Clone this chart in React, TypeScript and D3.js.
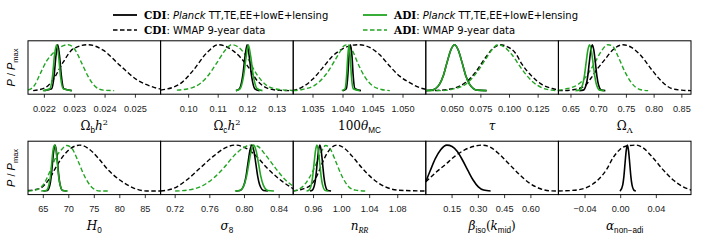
import * as d3 from "d3";

type Pt = [number, number];

const GREEN = "#22a522";
const left = 28;
const panelW = 132.6;
const panelH = 53.4;
const rowTop = [40.8, 141.2];

// tick values per panel
const ticksObh2 = [0.022, 0.023, 0.024, 0.025];
const ticksOch2 = [0.1, 0.11, 0.12, 0.13];
const ticksTheta = [1.035, 1.04, 1.045, 1.05];
const ticksTau = [0.05, 0.075, 0.1, 0.125];
const ticksOL = [0.65, 0.7, 0.75, 0.8, 0.85];
const ticksH0 = [65, 70, 75, 80, 85];
const ticksS8 = [0.72, 0.76, 0.8, 0.84];
const ticksNs = [0.96, 1.0, 1.04, 1.08];
const ticksBeta = [0.15, 0.3, 0.45, 0.6];
const ticksAlpha = [-0.04, 0.0, 0.04];

// Omega_b h^2
const obh2CdiPlanck: Pt[] = [[0.0220, 0], [0.02224, 0.04], [0.02232, 0.32], [0.02238, 0.75], [0.02244, 1], [0.0225, 0.75], [0.02256, 0.32], [0.02264, 0.04], [0.0229, 0]];
const obh2AdiPlanck: Pt[] = [[0.02195, 0], [0.02218, 0.04], [0.02227, 0.32], [0.02233, 0.75], [0.0224, 1], [0.02247, 0.75], [0.02253, 0.32], [0.02262, 0.04], [0.0229, 0]];
const obh2CdiWmap: Pt[] = [[0.02163, 0], [0.02202, 0.06], [0.02229, 0.24], [0.02262, 0.62], [0.02295, 0.91], [0.02344, 1], [0.02394, 0.88], [0.02449, 0.55], [0.02504, 0.24], [0.02559, 0.075], [0.02586, 0.03]];
const obh2AdiWmap: Pt[] = [[0.02146, 0.01], [0.02152, 0.025], [0.02169, 0.13], [0.02185, 0.35], [0.02207, 0.64], [0.02229, 0.82], [0.02251, 0.94], [0.02278, 1], [0.02301, 0.89], [0.02323, 0.6], [0.02344, 0.31], [0.02366, 0.1], [0.02394, 0.01], [0.0243, 0]];

// Omega_c h^2
const och2CdiPlanck: Pt[] = [[0.116, 0], [0.1172, 0.04], [0.1183, 0.32], [0.1191, 0.75], [0.1198, 1], [0.1205, 0.75], [0.1213, 0.32], [0.1224, 0.04], [0.124, 0]];
const och2AdiPlanck: Pt[] = [[0.116, 0], [0.1174, 0.04], [0.1186, 0.32], [0.1195, 0.75], [0.1202, 1], [0.121, 0.75], [0.1219, 0.32], [0.1232, 0.04], [0.125, 0]];
const och2CdiWmap: Pt[] = [[0.0905, 0.01], [0.0969, 0.14], [0.1014, 0.43], [0.1061, 0.82], [0.1101, 1], [0.1152, 0.86], [0.1199, 0.54], [0.1233, 0.21], [0.1268, 0.05], [0.131, 0.005], [0.1354, 0]];
const och2AdiWmap: Pt[] = [[0.096, 0.01], [0.1015, 0.07], [0.1061, 0.29], [0.1096, 0.61], [0.1125, 0.89], [0.1145, 1], [0.117, 0.94], [0.12, 0.7], [0.123, 0.36], [0.1265, 0.11], [0.131, 0.02], [0.1354, 0.005]];

// 100 theta_MC
const thetaCdiPlanck: Pt[] = [[1.04, 0], [1.04055, 0.04], [1.0408, 0.32], [1.041, 0.75], [1.04124, 1], [1.0415, 0.75], [1.0417, 0.32], [1.042, 0.04], [1.043, 0]];
const thetaAdiPlanck: Pt[] = [[1.0398, 0], [1.04035, 0.04], [1.0406, 0.32], [1.0408, 0.75], [1.041, 1], [1.0412, 0.75], [1.0414, 0.32], [1.0417, 0.04], [1.0428, 0]];
const thetaCdiWmap: Pt[] = [[1.03163, 0], [1.0332, 0.075], [1.03488, 0.24], [1.03657, 0.49], [1.03825, 0.75], [1.03994, 0.91], [1.04162, 0.99], [1.04275, 1], [1.04444, 0.94], [1.04612, 0.78], [1.04781, 0.53], [1.04949, 0.31], [1.05118, 0.17], [1.05286, 0.06], [1.05404, 0.025]];
const thetaAdiWmap: Pt[] = [[1.0317, 0.0], [1.0332, 0.025], [1.03545, 0.13], [1.03714, 0.35], [1.03825, 0.57], [1.03938, 0.82], [1.04022, 0.98], [1.04078, 1], [1.04162, 0.86], [1.04246, 0.6], [1.04359, 0.31], [1.04499, 0.1], [1.04641, 0.025], [1.0478, 0]];

// tau
const tauCdiPlanck: Pt[] = [[0.0269, 0], [0.0322, 0.011], [0.0355, 0.044], [0.0388, 0.135], [0.0421, 0.32], [0.0454, 0.61], [0.0487, 0.88], [0.052, 1], [0.0553, 0.88], [0.0586, 0.61], [0.0619, 0.32], [0.0652, 0.135], [0.0685, 0.044], [0.0718, 0.011], [0.08, 0]];
const tauAdiPlanck: Pt[] = [[0.0269, 0], [0.0322, 0.011], [0.0355, 0.044], [0.0388, 0.135], [0.0421, 0.32], [0.0454, 0.61], [0.0487, 0.88], [0.052, 1], [0.0553, 0.88], [0.0586, 0.61], [0.0619, 0.32], [0.0652, 0.135], [0.0685, 0.044], [0.0718, 0.011], [0.08, 0]];
const tauCdiWmap: Pt[] = [[0.035, 0], [0.0525, 0.06], [0.0612, 0.17], [0.07, 0.39], [0.0788, 0.71], [0.0861, 0.93], [0.0919, 1], [0.0978, 0.96], [0.1051, 0.82], [0.111, 0.57], [0.1197, 0.31], [0.1285, 0.13], [0.1373, 0.046], [0.1434, 0.01]];
const tauAdiWmap: Pt[] = [[0.03, 0], [0.0408, 0.0], [0.0525, 0.046], [0.0612, 0.13], [0.07, 0.35], [0.0788, 0.67], [0.0846, 0.89], [0.0899, 1], [0.0949, 0.96], [0.1022, 0.78], [0.111, 0.46], [0.1197, 0.205], [0.1285, 0.06], [0.1373, 0.01], [0.1434, 0]];

// Omega_Lambda
const olCdiPlanck: Pt[] = [[0.665, 0], [0.672, 0.011], [0.6775, 0.135], [0.6803, 0.32], [0.683, 0.61], [0.6858, 0.88], [0.6885, 1], [0.6912, 0.88], [0.694, 0.61], [0.6967, 0.32], [0.6995, 0.135], [0.705, 0.011], [0.712, 0]];
const olAdiPlanck: Pt[] = [[0.658, 0], [0.6649, 0.011], [0.6711, 0.135], [0.6742, 0.32], [0.6773, 0.61], [0.6804, 0.88], [0.6835, 1], [0.6866, 0.88], [0.6897, 0.61], [0.6928, 0.32], [0.6959, 0.135], [0.7021, 0.011], [0.71, 0]];
const olCdiWmap: Pt[] = [[0.627, 0], [0.638, 0], [0.6563, 0.025], [0.6745, 0.1], [0.6866, 0.28], [0.6986, 0.49], [0.7107, 0.67], [0.7257, 0.89], [0.7439, 1], [0.7591, 0.94], [0.7772, 0.75], [0.7953, 0.46], [0.8134, 0.205], [0.8316, 0.046], [0.8497, 0.01], [0.8665, 0]];
const olAdiWmap: Pt[] = [[0.627, 0.01], [0.6442, 0.046], [0.6623, 0.13], [0.6775, 0.31], [0.6926, 0.6], [0.7047, 0.86], [0.7167, 1], [0.7257, 0.96], [0.7348, 0.75], [0.7469, 0.42], [0.7591, 0.17], [0.7741, 0.025], [0.7892, 0]];

// H0
const h0CdiPlanck: Pt[] = [[65.0, 0], [65.8, 0.011], [66.3, 0.135], [66.55, 0.32], [66.8, 0.61], [67.05, 0.88], [67.3, 1], [67.55, 0.88], [67.8, 0.61], [68.05, 0.32], [68.3, 0.135], [68.8, 0.011], [69.6, 0]];
const h0AdiPlanck: Pt[] = [[64.6, 0], [65.55, 0.011], [66.1, 0.135], [66.4, 0.32], [66.65, 0.61], [66.9, 0.88], [67.2, 1], [67.5, 0.88], [67.75, 0.61], [68.0, 0.32], [68.3, 0.135], [68.85, 0.011], [69.8, 0]];
const h0CdiWmap: Pt[] = [[62.0, 0.01], [64.31, 0.055], [66.27, 0.28], [67.59, 0.54], [68.88, 0.76], [70.53, 0.94], [72.16, 1], [73.78, 0.93], [75.75, 0.72], [77.71, 0.46], [80.0, 0.24], [82.61, 0.07], [85.24, 0.0], [88, 0]];
const h0AdiWmap: Pt[] = [[62.0, 0.0], [63.33, 0.018], [64.96, 0.13], [66.27, 0.42], [67.59, 0.76], [68.57, 0.9], [69.55, 0.99], [70.53, 0.94], [71.82, 0.65], [73.14, 0.31], [74.45, 0.09], [76.08, 0.0], [78, 0]];

// sigma_8
const s8CdiPlanck: Pt[] = [[0.79, 0], [0.795, 0.011], [0.7995, 0.135], [0.80175, 0.32], [0.804, 0.61], [0.80625, 0.88], [0.8085, 1], [0.81075, 0.88], [0.813, 0.61], [0.81525, 0.32], [0.8175, 0.135], [0.822, 0.011], [0.827, 0]];
const s8AdiPlanck: Pt[] = [[0.789, 0], [0.7941, 0.011], [0.7996, 0.135], [0.80235, 0.32], [0.8051, 0.61], [0.80785, 0.88], [0.8106, 1], [0.81335, 0.88], [0.8161, 0.61], [0.81885, 0.32], [0.8216, 0.135], [0.8271, 0.011], [0.834, 0]];
const s8CdiWmap: Pt[] = [[0.7032, 0], [0.7179, 0.055], [0.7333, 0.24], [0.7488, 0.5], [0.7643, 0.76], [0.7777, 0.94], [0.7893, 1], [0.8009, 0.94], [0.8125, 0.78], [0.8261, 0.5], [0.8415, 0.24], [0.857, 0.04]];
const s8AdiWmap: Pt[] = [[0.72, 0], [0.7333, 0.018], [0.7488, 0.09], [0.7643, 0.28], [0.7759, 0.5], [0.7875, 0.76], [0.7971, 0.92], [0.8067, 1], [0.8145, 0.98], [0.8241, 0.79], [0.8357, 0.5], [0.8473, 0.24], [0.857, 0.09]];

// n_RR
const nsCdiPlanck: Pt[] = [[0.955, 0], [0.9576, 0.011], [0.9614, 0.135], [0.9633, 0.32], [0.9652, 0.61], [0.9671, 0.88], [0.969, 1], [0.9709, 0.88], [0.9728, 0.61], [0.9747, 0.32], [0.9766, 0.135], [0.9804, 0.011], [0.985, 0]];
const nsAdiPlanck: Pt[] = [[0.95, 0], [0.9528, 0.011], [0.9568, 0.135], [0.9588, 0.32], [0.9608, 0.61], [0.9628, 0.88], [0.9648, 1], [0.9668, 0.88], [0.9688, 0.61], [0.9708, 0.32], [0.9728, 0.135], [0.9768, 0.011], [0.981, 0]];
const nsCdiWmap: Pt[] = [[0.931, 0.0], [0.9441, 0.04], [0.956, 0.13], [0.9654, 0.35], [0.9725, 0.61], [0.9796, 0.83], [0.9867, 0.96], [0.9938, 1], [1.0033, 0.94], [1.015, 0.76], [1.0292, 0.5], [1.0434, 0.28], [1.0624, 0.09], [1.0813, 0.018], [1.12, 0]];
const nsAdiWmap: Pt[] = [[0.931, 0.0], [0.9441, 0.09], [0.9536, 0.28], [0.9631, 0.57], [0.9702, 0.83], [0.9773, 0.99], [0.9844, 0.9], [0.9915, 0.65], [1.0009, 0.31], [1.0104, 0.09], [1.0199, 0.02], [1.035, 0]];

// beta_iso(k_mid)
const betaCdiPlanck: Pt[] = [[0, 0.2], [0.025, 0.44], [0.055, 0.71], [0.085, 0.9], [0.12, 1], [0.15, 0.97], [0.18, 0.86], [0.21, 0.67], [0.24, 0.45], [0.27, 0.24], [0.3, 0.09], [0.33, 0.02], [0.37, 0]];
const betaCdiWmap: Pt[] = [[0, 0.2], [0.053, 0.39], [0.11, 0.57], [0.167, 0.76], [0.224, 0.9], [0.281, 0.98], [0.319, 1], [0.366, 0.96], [0.423, 0.79], [0.48, 0.57], [0.537, 0.35], [0.594, 0.166], [0.651, 0.055], [0.708, 0.004], [0.75, 0]];

// alpha_non-adi
const alphaCdiPlanck: Pt[] = [[-0.001, 0], [-0.0003, 0.011], [0.0023, 0.135], [0.0036, 0.32], [0.0049, 0.61], [0.0062, 0.88], [0.0075, 1], [0.0088, 0.88], [0.0101, 0.61], [0.0114, 0.32], [0.0127, 0.135], [0.0153, 0.011], [0.017, 0]];
const alphaCdiWmap: Pt[] = [[-0.07, 0], [-0.0518, 0.018], [-0.0368, 0.09], [-0.0256, 0.24], [-0.0161, 0.46], [-0.0087, 0.72], [-0.0011, 0.9], [0.0064, 0.98], [0.0177, 1], [0.0251, 0.94], [0.0364, 0.72], [0.0477, 0.46], [0.0589, 0.24], [0.0702, 0.09], [0.0797, 0.018]];

type Seg = { t: string; it?: boolean; sub?: boolean; sup?: boolean; sans?: boolean; cal?: boolean };

const panels: {
  row: number; col: number; domain: [number, number]; ticks: number[]; fmt: string; label: Seg[];
  cdiWmap?: Pt[]; adiWmap?: Pt[]; cdiPlanck?: Pt[]; adiPlanck?: Pt[];
}[] = [
  { row: 0, col: 0, domain: [0.02146, 0.02583], ticks: ticksObh2, fmt: ".3f", label: [{ t: "Ω" }, { t: "b", sub: true, sans: true }, { t: "h", it: true }, { t: "2", sup: true }], cdiWmap: obh2CdiWmap, adiWmap: obh2AdiWmap, cdiPlanck: obh2CdiPlanck, adiPlanck: obh2AdiPlanck },
  { row: 0, col: 1, domain: [0.0905, 0.1354], ticks: ticksOch2, fmt: ".2f", label: [{ t: "Ω" }, { t: "c", sub: true, sans: true }, { t: "h", it: true }, { t: "2", sup: true }], cdiWmap: och2CdiWmap, adiWmap: och2AdiWmap, cdiPlanck: och2CdiPlanck, adiPlanck: och2AdiPlanck },
  { row: 0, col: 2, domain: [1.0317, 1.0538], ticks: ticksTheta, fmt: ".3f", label: [{ t: "100" }, { t: "θ", it: true }, { t: "MC", sub: true, sans: true }], cdiWmap: thetaCdiWmap, adiWmap: thetaAdiWmap, cdiPlanck: thetaCdiPlanck, adiPlanck: thetaAdiPlanck },
  { row: 0, col: 3, domain: [0.0269, 0.1427], ticks: ticksTau, fmt: ".3f", label: [{ t: "τ", it: true }], cdiWmap: tauCdiWmap, adiWmap: tauAdiWmap, cdiPlanck: tauCdiPlanck, adiPlanck: tauAdiPlanck },
  { row: 0, col: 4, domain: [0.6273, 0.8665], ticks: ticksOL, fmt: ".2f", label: [{ t: "Ω" }, { t: "Λ", sub: true }], cdiWmap: olCdiWmap, adiWmap: olAdiWmap, cdiPlanck: olCdiPlanck, adiPlanck: olAdiPlanck },
  { row: 1, col: 0, domain: [62, 88], ticks: ticksH0, fmt: "d", label: [{ t: "H", it: true }, { t: "0", sub: true, sans: true }], cdiWmap: h0CdiWmap, adiWmap: h0AdiWmap, cdiPlanck: h0CdiPlanck, adiPlanck: h0AdiPlanck },
  { row: 1, col: 1, domain: [0.7032, 0.8562], ticks: ticksS8, fmt: ".2f", label: [{ t: "σ", it: true }, { t: "8", sub: true, sans: true }], cdiWmap: s8CdiWmap, adiWmap: s8AdiWmap, cdiPlanck: s8CdiPlanck, adiPlanck: s8AdiPlanck },
  { row: 1, col: 2, domain: [0.931, 1.12], ticks: ticksNs, fmt: ".2f", label: [{ t: "n", it: true }, { t: "RR", sub: true, cal: true }], cdiWmap: nsCdiWmap, adiWmap: nsAdiWmap, cdiPlanck: nsCdiPlanck, adiPlanck: nsAdiPlanck },
  { row: 1, col: 3, domain: [0, 0.757], ticks: ticksBeta, fmt: ".2f", label: [{ t: "β", it: true }, { t: "iso", sub: true, sans: true }, { t: "(" }, { t: "k", it: true }, { t: "mid", sub: true, sans: true }, { t: ")" }], cdiWmap: betaCdiWmap, cdiPlanck: betaCdiPlanck },
  { row: 1, col: 4, domain: [-0.0699, 0.0789], ticks: ticksAlpha, fmt: ".2f", label: [{ t: "α", it: true }, { t: "non−adi", sub: true, sans: true }], cdiWmap: alphaCdiWmap, cdiPlanck: alphaCdiPlanck },
];

const SANS = "'Liberation Sans', Arial, sans-serif";
const SERIF = "'DejaVu Serif', serif";

function MathLabel({ segs, x, y, size = 12 }: { segs: Seg[]; x: number; y: number; size?: number }) {
  let cur = 0;
  return (
    <text x={x} y={y} textAnchor="middle" fontFamily={SERIF} fontSize={size} fill="#000">
      {segs.map((s, i) => {
        const target = s.sub ? size * 0.28 : s.sup ? -size * 0.4 : 0;
        const dy = target - cur;
        cur = target;
        return (
          <tspan key={i} dy={dy} fontSize={s.sub || s.sup ? size * 0.68 : size}
            fontStyle={s.it || s.cal ? "italic" : "normal"}
            fontFamily={s.cal ? "'URW Chancery L', 'Z003', 'Liberation Serif', serif" : s.sans ? SANS : SERIF}>
            {s.t}
          </tspan>
        );
      })}
    </text>
  );
}

function Panel({ p }: { p: (typeof panels)[number] }) {
  const x0 = left + p.col * panelW;
  const y0 = rowTop[p.row];
  const x = d3.scaleLinear().domain(p.domain).range([x0, x0 + panelW]);
  const y = d3.scaleLinear().domain([-0.078, 1.085]).range([y0 + panelH, y0]);
  const line = d3.line<Pt>().x((d) => x(d[0])).y((d) => y(d[1])).curve(d3.curveMonotoneX);
  const fmt = d3.format(p.fmt);
  const id = `clip-${p.row}-${p.col}`;
  const yb = y0 + panelH;
  return (
    <g>
      <clipPath id={id}>
        <rect x={x0} y={y0} width={panelW} height={panelH} />
      </clipPath>
      <g clipPath={`url(#${id})`} fill="none">
        {p.cdiWmap && <path d={line(p.cdiWmap) || ""} stroke="#000" strokeWidth={1.4} strokeDasharray="4.5,2.5" />}
        {p.adiWmap && <path d={line(p.adiWmap) || ""} stroke={GREEN} strokeWidth={1.4} strokeDasharray="4.5,2.5" />}
        {p.cdiPlanck && <path d={line(p.cdiPlanck) || ""} stroke="#000" strokeWidth={1.6} />}
        {p.adiPlanck && <path d={line(p.adiPlanck) || ""} stroke={GREEN} strokeWidth={1.6} />}
      </g>
      <rect x={x0} y={y0} width={panelW} height={panelH} fill="none" stroke="#000" strokeWidth={1} />
      {p.ticks.map((t) => (
        <g key={t}>
          <line x1={x(t)} x2={x(t)} y1={yb} y2={yb + 3.5} stroke="#000" strokeWidth={0.8} />
          <text x={x(t)} y={yb + 17.5} textAnchor="middle" fontFamily={SANS} fontSize={9.2} fill="#222">
            {fmt(t)}
          </text>
        </g>
      ))}
      <MathLabel segs={p.label} x={x0 + panelW / 2} y={yb + 35.5} />
    </g>
  );
}

function YLabel({ cy }: { cy: number }) {
  return (
    <text transform={`translate(15,${cy}) rotate(-90)`} textAnchor="middle" fontFamily={SANS} fontSize={11} fill="#000">
      <tspan fontStyle="italic">P</tspan>
      <tspan> / </tspan>
      <tspan fontStyle="italic">P</tspan>
      <tspan fontSize={7.5} dy={2.5}>max</tspan>
    </text>
  );
}

function LegendEntry({ x, y, color, dashed, planck, name }: { x: number; y: number; color: string; dashed: boolean; planck: boolean; name: string }) {
  return (
    <g>
      <line x1={x} x2={x + 24} y1={y} y2={y} stroke={color} strokeWidth={dashed ? 1.4 : 1.8} strokeDasharray={dashed ? "4.5,2.5" : undefined} />
      <text x={x + 31} y={y + 3.6} fontFamily="'DejaVu Sans', sans-serif" fontSize={10} fill="#000">
        <tspan fontFamily="'DejaVu Serif', serif" fontWeight="bold" fontSize={10.5}>{name}</tspan>
        <tspan>: </tspan>
        {planck ? (
          <>
            <tspan fontStyle="italic">Planck</tspan>
            <tspan> TT,TE,EE+lowE+lensing</tspan>
          </>
        ) : (
          <tspan>WMAP 9-year data</tspan>
        )}
      </text>
    </g>
  );
}

export default function App() {
  return (
    <svg width={706} height={244} style={{ position: "absolute", left: 0, top: 0, background: "#fff" }}>
      <LegendEntry x={113} y={15} color="#000" dashed={false} planck={true} name="CDI" />
      <LegendEntry x={113} y={30} color="#000" dashed={true} planck={false} name="CDI" />
      <LegendEntry x={363} y={15} color={GREEN} dashed={false} planck={true} name="ADI" />
      <LegendEntry x={363} y={30} color={GREEN} dashed={true} planck={false} name="ADI" />
      {panels.map((p) => (
        <Panel key={`${p.row}-${p.col}`} p={p} />
      ))}
      <YLabel cy={rowTop[0] + panelH / 2} />
      <YLabel cy={rowTop[1] + panelH / 2} />
    </svg>
  );
}
